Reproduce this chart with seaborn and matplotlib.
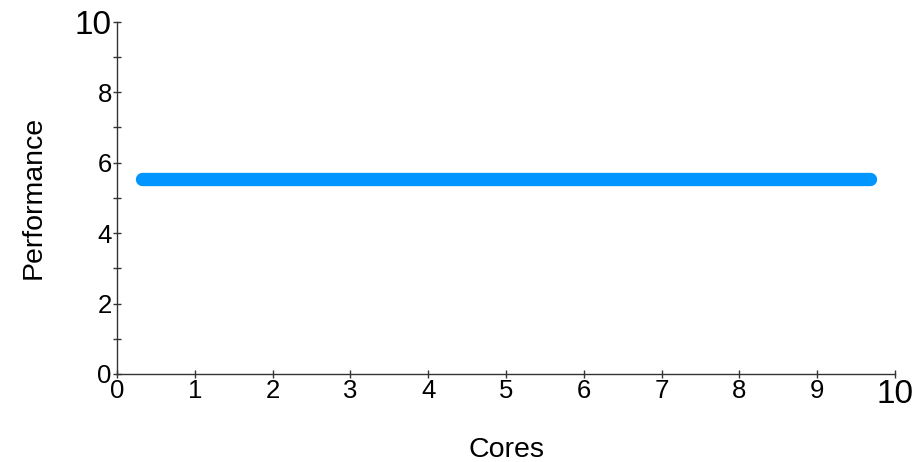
import matplotlib.pyplot as plt
import seaborn as sns
import pandas as pd
import numpy as np

sns.set_theme(style="ticks")
plt.rcParams["font.family"] = ["Liberation Sans", "DejaVu Sans"]

# данные: одна горизонтальная линия производительности
cores = [0.32, 9.68]
performance = [5.53, 5.53]

x_ticks = [0, 1, 2, 3, 4, 5, 6, 7, 8, 9, 10]
y_ticks = [0, 2, 4, 6, 8, 10]
y_minor = [1, 3, 5, 7, 9]

df = pd.DataFrame({"Cores": cores, "Performance": performance})

fig = plt.figure(figsize=(9.17, 4.62), dpi=100)
ax = fig.add_axes([0.1276, 0.1905, 0.976 - 0.1276, 0.953 - 0.1905])

sns.lineplot(data=df, x="Cores", y="Performance", color="#0095ff",
             linewidth=9.6, solid_capstyle="round", ax=ax)

ax.set_xlim(0, 10)
ax.set_ylim(0, 10)
ax.set_xticks(x_ticks, [str(t) for t in x_ticks])
ax.set_yticks(y_ticks, [str(t) for t in y_ticks])
ax.set_yticks(y_minor, minor=True)

for spine in ["top", "right"]:
    ax.spines[spine].set_visible(False)
for spine in ["left", "bottom"]:
    ax.spines[spine].set_color("#333333")
    ax.spines[spine].set_linewidth(1)

ax.tick_params(axis="both", which="both", direction="inout", length=5.5,
               width=1, color="#333333", labelsize=18.5, pad=1, labelcolor="black")

# "10" на концах осей крупнее остальных
ax.get_xticklabels()[-1].set_fontsize(24)
ax.get_yticklabels()[-1].set_fontsize(24)

ax.set_xlabel("Cores", fontsize=20.5, labelpad=19, color="black")
ax.set_ylabel("Performance", fontsize=20.5, labelpad=20, color="black")

fig.savefig("out.png", dpi=100)
